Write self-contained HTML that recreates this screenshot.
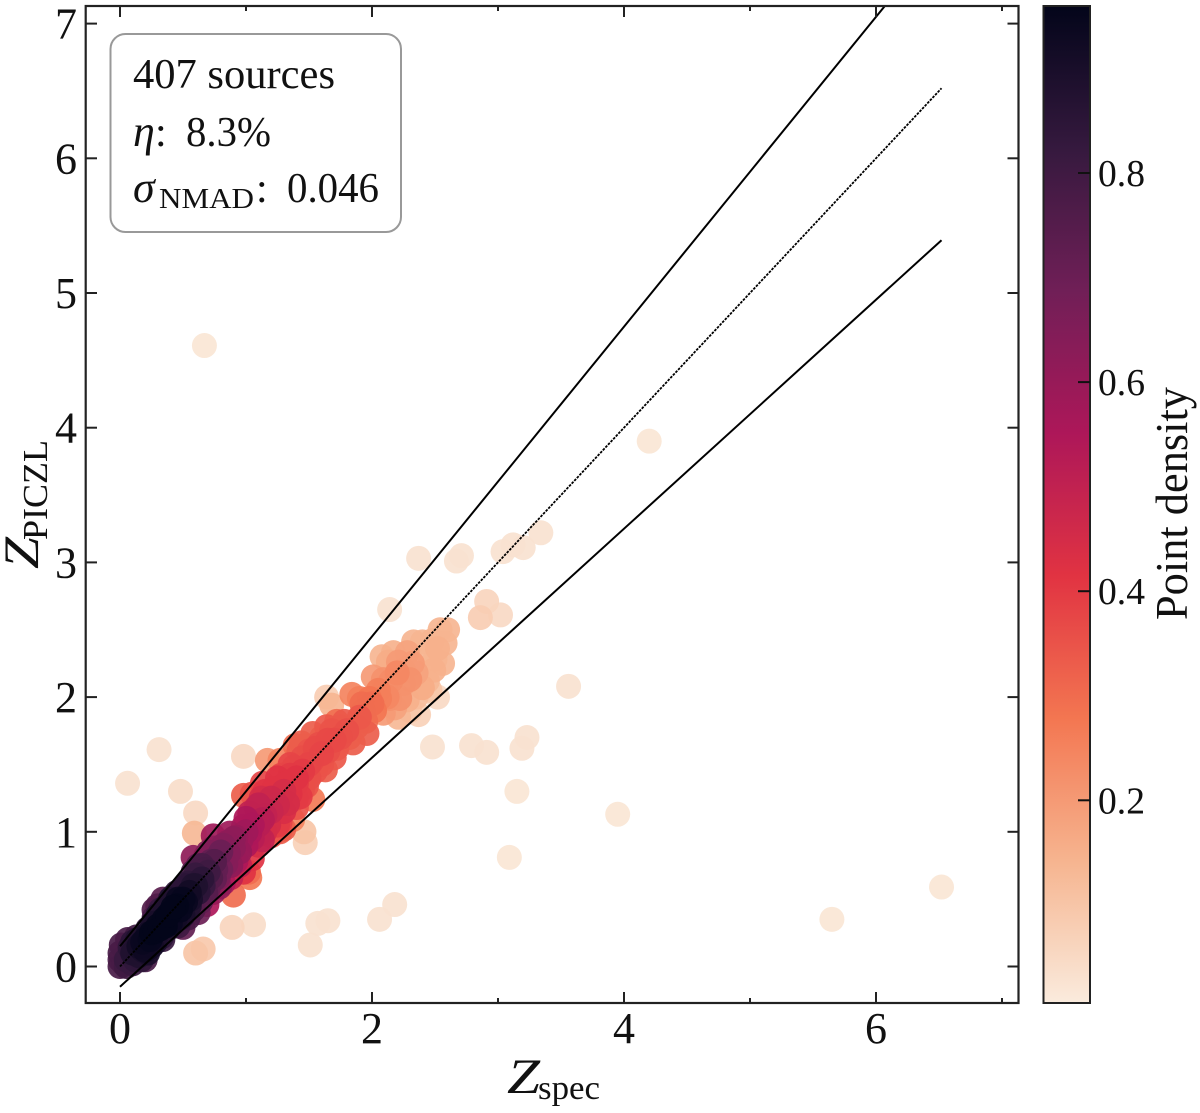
<!DOCTYPE html>
<html lang="en">
<head>
<meta charset="utf-8">
<title>PICZL photometric redshift scatter</title>
<style>
html,body{margin:0;padding:0;background:#fff;}
svg{display:block;}
text{font-family:"Liberation Serif","DejaVu Serif",serif;fill:#111;}
</style>
</head>
<body>
<svg id="chart" xmlns="http://www.w3.org/2000/svg" width="1200" height="1113" viewBox="0 0 1200 1113">
  <defs>
    <clipPath id="plot-clip"><rect x="86" y="7" width="932" height="995"></rect></clipPath>
    <linearGradient id="cbar-grad" x1="0" y1="1" x2="0" y2="0"></linearGradient>
  </defs>
  <rect x="0" y="0" width="1200" height="1113" fill="#fff"></rect>
  <g id="points" clip-path="url(#plot-clip)"></g>
  <g id="lines" clip-path="url(#plot-clip)"></g>
  <g id="ticks"></g>
  <rect x="85.7" y="6" width="932.8" height="997" fill="none" stroke="#222" stroke-width="2.2"></rect>

  <g>
    <rect x="110.5" y="34" width="290.5" height="198" rx="15" ry="15" fill="#fff" stroke="#999" stroke-width="2"></rect>
    <text x="133" y="88" font-size="42" textLength="202" lengthAdjust="spacingAndGlyphs">407 sources</text>
    <text x="133" y="146" font-size="44" font-style="italic">η</text>
    <text x="155" y="146" font-size="42">:</text>
    <text x="186" y="146" font-size="42" textLength="85" lengthAdjust="spacingAndGlyphs">8.3%</text>
    <text x="133" y="202" font-size="44" font-style="italic">σ</text>
    <text x="159" y="208" font-size="29" textLength="95" lengthAdjust="spacingAndGlyphs">NMAD</text>
    <text x="256" y="202" font-size="42">:</text>
    <text x="287" y="202" font-size="42" textLength="92" lengthAdjust="spacingAndGlyphs">0.046</text>
  </g>

  <g>
    <text x="507" y="1093" font-size="50" font-style="italic" textLength="33" lengthAdjust="spacingAndGlyphs">Z</text>
    <text x="538" y="1099" font-size="34" textLength="62" lengthAdjust="spacingAndGlyphs">spec</text>
  </g>
  <g>
    <text transform="translate(38,569) rotate(-90)" font-size="50" font-style="italic" textLength="32" lengthAdjust="spacingAndGlyphs">Z</text>
    <text transform="translate(47,540) rotate(-90)" font-size="35" textLength="100" lengthAdjust="spacingAndGlyphs">PICZL</text>
  </g>

  <rect x="1043.5" y="6" width="46.5" height="997" fill="url(#cbar-grad)" stroke="#222" stroke-width="2"></rect>
  <g id="cbar-ticks"></g>
  <text transform="translate(1187,620) rotate(-90)" font-size="46" textLength="233" lengthAdjust="spacingAndGlyphs">Point density</text>
</svg>
<script>
// Chart data
const zSpec = [
  0.67,4.20,6.52,5.65,3.95,3.09,3.15,3.56,3.23,3.19,
  2.91,2.79,2.48,2.18,2.06,1.65,1.57,1.51,1.06,0.89,
  0.66,0.60,0.06,0.31,0.48,0.98,0.60,0.59,2.37,2.67,
  2.71,3.04,3.12,3.20,3.34,2.14,2.91,2.86,3.02,2.60,
  2.54,2.52,2.58,2.56,2.49,2.33,2.40,2.08,2.17,2.28,
  2.13,2.21,2.32,2.01,2.09,2.20,2.30,2.40,2.52,2.37,
  2.21,2.28,2.14,2.06,1.98,1.93,2.09,2.22,1.64,1.68,
  1.84,1.90,2.11,1.96,1.85,1.75,1.64,1.53,1.44,1.63,
  1.50,1.60,1.70,1.80,1.90,2.00,1.55,1.65,1.75,1.53,
  1.46,1.47,1.37,0.98,1.17,1.27,1.13,1.27,1.40,1.21,
  1.33,1.43,1.03,1.13,1.27,1.03,0.98,1.13,1.10,1.20,
  1.30,1.40,1.25,1.35,1.45,1.50,1.42,1.39,1.47,1.20,
  1.30,1.27,1.40,1.35,1.48,1.58,1.70,1.05,1.60,1.72,
  0.00,0.00,0.00,0.01,0.03,0.05,0.06,0.10,0.10,0.10,
  0.13,0.15,0.15,0.18,0.20,0.20,0.22,0.25,0.25,0.27,
  0.27,0.30,0.30,0.33,0.34,0.35,0.38,0.40,0.40,0.42,
  0.45,0.45,0.48,0.50,0.50,0.52,0.55,0.55,0.58,0.58,
  0.60,0.60,0.62,0.65,0.65,0.68,0.69,0.70,0.70,0.74,
  0.75,0.75,0.79,0.80,0.80,0.85,0.87,0.88,0.90,1.03,
  0.90,0.95,0.95,1.00,1.00,1.05,1.10,1.10,1.02,1.15,
  0.05,0.08,0.12,0.14,0.17,0.18,0.20,0.22,0.22,0.24,
  0.26,0.28,0.28,0.30,0.32,0.32,0.34,0.36,0.36,0.38,
  0.40,0.42,0.42,0.44,0.46,0.46,0.48,0.50,0.50,0.52,
  0.54,0.54,0.56,0.58,0.58,0.60,0.62,0.62,0.64,0.66,
  0.68,0.68,0.70,0.72,0.72,0.74,0.74,0.76,0.78,0.78,
  0.82,0.82,0.84,0.86,0.88,0.90,0.92,0.92,0.96,0.98,
  1.00,1.05,1.05,1.08,1.10,1.12,1.15,1.15,1.18,1.20,
  1.22,1.25,1.25,1.28,1.30,1.32,1.35,1.38,1.40,1.42,
  1.45,1.45,1.50,1.52,1.55,1.58,1.60,1.65,1.68,1.72,
  1.78,1.82,1.88,1.92,1.95,2.02,2.05,2.12,2.15,2.18,
  2.25,2.25,2.35,2.35,2.44,2.45,2.48,2.50,2.46,2.30
];
const zPiczl = [
  4.61,3.90,0.59,0.35,1.13,0.81,1.30,2.08,1.70,1.62,
  1.59,1.64,1.63,0.46,0.35,0.34,0.32,0.16,0.31,0.29,
  0.13,0.10,1.36,1.61,1.30,1.56,1.14,0.99,3.03,3.01,
  3.05,3.08,3.13,3.11,3.22,2.65,2.71,2.59,2.61,2.50,
  2.50,2.36,2.40,2.25,2.20,2.41,2.41,2.30,2.33,2.33,
  2.26,2.26,2.25,2.15,2.13,2.18,2.13,2.07,2.00,1.87,
  1.85,1.98,1.99,1.99,1.99,1.90,1.88,1.99,2.00,1.94,
  2.02,1.99,2.08,1.73,1.66,1.78,1.78,1.73,1.66,1.46,
  1.50,1.58,1.68,1.75,1.85,1.95,1.62,1.68,1.70,1.24,
  1.00,0.92,1.09,1.27,1.53,1.53,1.36,1.33,1.36,1.18,
  1.21,1.26,1.14,1.09,1.07,0.99,1.04,0.94,1.20,1.25,
  1.30,1.40,1.40,1.50,1.45,1.60,1.60,1.64,1.64,0.97,
  1.02,1.00,1.18,1.42,1.34,1.52,1.55,1.28,1.70,1.82,
  0.00,0.05,0.10,0.16,0.02,0.00,0.20,0.02,0.10,0.18,
  0.22,0.08,0.15,0.12,0.05,0.20,0.28,0.15,0.25,0.36,
  0.42,0.45,0.30,0.22,0.50,0.35,0.28,0.40,0.50,0.30,
  0.45,0.55,0.36,0.50,0.29,0.60,0.45,0.55,0.70,0.81,
  0.60,0.50,0.40,0.65,0.75,0.55,0.46,0.70,0.85,0.97,
  0.65,0.78,0.59,0.85,0.72,0.92,0.99,0.75,0.53,0.66,
  0.95,0.85,0.75,1.00,0.90,0.80,1.05,0.90,0.70,1.00,
  0.05,0.14,0.05,0.20,0.05,0.18,0.12,0.10,0.24,0.20,
  0.32,0.18,0.26,0.38,0.28,0.42,0.20,0.30,0.44,0.38,
  0.32,0.44,0.52,0.36,0.50,0.30,0.42,0.58,0.38,0.48,
  0.36,0.62,0.50,0.60,0.42,0.68,0.55,0.75,0.48,0.60,
  0.72,0.82,0.58,0.66,0.78,0.88,0.55,0.72,0.82,0.66,
  0.90,0.62,0.76,0.84,0.66,0.88,0.78,0.96,0.94,0.70,
  1.10,1.05,0.95,1.18,0.98,1.25,1.12,1.30,1.05,1.15,
  1.32,1.20,1.05,1.42,1.15,1.36,1.28,1.48,1.25,1.45,
  1.55,1.32,1.40,1.52,1.45,1.65,1.50,1.60,1.75,1.62,
  1.82,1.70,1.78,1.95,1.82,1.90,2.05,2.00,2.12,1.92,
  2.10,2.20,2.18,2.00,2.12,2.32,2.42,2.28,2.05,1.90
];
const density = [
  .02,.02,.02,.02,.02,.02,.02,.03,.03,.03,
  .03,.03,.03,.03,.03,.03,.03,.03,.04,.06,
  .09,.10,.03,.03,.04,.05,.05,.13,.03,.03,
  .03,.03,.03,.03,.03,.03,.06,.08,.05,.14,
  .14,.15,.14,.14,.15,.14,.14,.14,.15,.18,
  .16,.20,.20,.20,.22,.24,.22,.16,.05,.07,
  .13,.15,.22,.26,.28,.30,.20,.22,.08,.14,
  .25,.26,.22,.33,.33,.33,.34,.33,.33,.33,
  .38,.38,.37,.36,.34,.30,.37,.37,.36,.27,
  .10,.07,.25,.33,.20,.25,.38,.40,.40,.45,
  .45,.40,.50,.52,.38,.55,.55,.50,.50,.47,
  .45,.42,.42,.38,.40,.35,.33,.30,.32,.35,
  .33,.33,.35,.40,.35,.35,.34,.35,.32,.30,
  .78,.78,.78,.78,.78,.80,.78,.82,.88,.85,
  .80,.88,.92,.90,.78,.94,.85,.92,.96,.78,
  .76,.76,.96,.85,.74,.96,.88,.96,.88,.80,
  .96,.85,.85,.95,.72,.85,.88,.92,.78,.62,
  .88,.75,.70,.85,.78,.75,.55,.80,.65,.58,
  .72,.75,.62,.70,.68,.62,.58,.62,.30,.27,
  .62,.60,.50,.58,.55,.42,.52,.45,.30,.45,
  .82,.84,.84,.88,.84,.94,.93,.90,.92,.95,
  .90,.90,.96,.88,.96,.82,.82,.96,.88,.96,
  .94,.96,.82,.92,.94,.80,.95,.84,.90,.94,
  .78,.84,.90,.88,.76,.82,.85,.72,.72,.82,
  .78,.62,.72,.76,.72,.62,.60,.72,.68,.66,
  .64,.55,.64,.64,.50,.62,.55,.60,.58,.42,
  .55,.55,.52,.48,.50,.45,.50,.42,.45,.48,
  .42,.47,.40,.38,.44,.42,.42,.38,.38,.38,
  .36,.36,.36,.37,.35,.36,.35,.36,.35,.34,
  .34,.33,.33,.30,.30,.28,.26,.24,.23,.18,
  .20,.20,.18,.12,.13,.14,.14,.14,.10,.10
];
const xMajorTicks = [0, 2, 4, 6];
const xMinorTicks = [1, 3, 5, 7];
const yMajorTicks = [0, 1, 2, 3, 4, 5, 6, 7];
const cbarTicks = [0.2, 0.4, 0.6, 0.8];
const cbarDomain = [0.0065, 0.96];
const identityEnds = [0, 6.52];
const outlierFraction = 0.15;
const rocketReversed = ['#faebdd', '#f6b48f', '#f37651', '#e13342', '#ad1759', '#701f57', '#35193e', '#03051a'];

const NS = 'http://www.w3.org/2000/svg';
const sx = v => 120 + 126 * v;
const sy = v => 966.5 - 134.7 * v;
const scb = v => 173 - 1045.5 * (v - 0.8);

function hexRgb(h) {
  return [1, 3, 5].map(i => parseInt(h.slice(i, i + 2), 16));
}
function colorFor(d) {
  const t = Math.min(1, Math.max(0, (d - cbarDomain[0]) / (cbarDomain[1] - cbarDomain[0])));
  const p = t * (rocketReversed.length - 1);
  const i = Math.min(rocketReversed.length - 2, Math.floor(p));
  const a = hexRgb(rocketReversed[i]);
  const b = hexRgb(rocketReversed[i + 1]);
  const f = p - i;
  return 'rgb(' + a.map((c, k) => Math.round(c + (b[k] - c) * f)).join(',') + ')';
}
function mk(tag, props, parent) {
  const el = document.createElementNS(NS, tag);
  Object.keys(props).forEach(k => el.setAttribute(k, props[k]));
  parent.appendChild(el);
  return el;
}

// Colorbar gradient
const grad = document.getElementById('cbar-grad');
rocketReversed.forEach((c, i) => {
  mk('stop', {offset: i / (rocketReversed.length - 1), 'stop-color': c}, grad);
});

// Points: densest drawn last
const pointsG = document.getElementById('points');
const order = density.map((d, i) => i).sort((a, b) => density[a] - density[b]);
order.forEach(i => {
  const c = mk('circle', {cx: sx(zSpec[i]), cy: sy(zPiczl[i]), r: 12.5, fill: colorFor(density[i]), 'fill-opacity': 0.92}, pointsG);
  
  
});

// Reference lines
const linesG = document.getElementById('lines');
const a0 = identityEnds[0], a1 = identityEnds[1];
const upper = v => v + outlierFraction * (1 + v);
const lower = v => v - outlierFraction * (1 + v);
const identityLine = mk('line', {x1: sx(a0), y1: sy(a0), x2: sx(a1), y2: sy(a1), stroke: '#000', 'stroke-width': 1.8, 'stroke-dasharray': '2.6 1.2'}, linesG);


const upperLine = mk('line', {x1: sx(a0), y1: sy(upper(a0)), x2: sx(a1), y2: sy(upper(a1)), stroke: '#000', 'stroke-width': 2}, linesG);


const lowerLine = mk('line', {x1: sx(a0), y1: sy(lower(a0)), x2: sx(a1), y2: sy(lower(a1)), stroke: '#000', 'stroke-width': 2}, linesG);



// Axis ticks and labels
const ticksG = document.getElementById('ticks');
const tickProps = {stroke: '#222', 'stroke-width': 2};
function tickLine(x1, y1, x2, y2) {
  return mk('line', Object.assign({x1: x1, y1: y1, x2: x2, y2: y2}, tickProps), ticksG);
}
xMajorTicks.forEach(v => {
  const b = tickLine(sx(v), 1003, sx(v), 992);
  
  
  const t = tickLine(sx(v), 6, sx(v), 17);
  
  
  const label = mk('text', {x: sx(v), y: 1043, 'font-size': 44, 'text-anchor': 'middle'}, ticksG);
  
  
  label.textContent = String(v);
});
xMinorTicks.forEach(v => {
  const b = tickLine(sx(v), 1003, sx(v), 998);
  
  
  const t = tickLine(sx(v), 6, sx(v), 11);
  
  
});
yMajorTicks.forEach(v => {
  const l = tickLine(86, sy(v), 97, sy(v));
  
  
  const r = tickLine(1007.5, sy(v), 1018.5, sy(v));
  
  
  const label = mk('text', {x: 77, y: sy(v) + 15, 'font-size': 44, 'text-anchor': 'end'}, ticksG);
  
  
  label.textContent = String(v);
});

// Colorbar ticks and labels
const cbarG = document.getElementById('cbar-ticks');
cbarTicks.forEach(v => {
  const tick = mk('line', {x1: 1078, y1: scb(v), x2: 1090, y2: scb(v), stroke: '#111', 'stroke-width': 2}, cbarG);
  
  
  const label = mk('text', {x: 1098, y: scb(v) + 13, 'font-size': 38, textLength: 47, lengthAdjust: 'spacingAndGlyphs'}, cbarG);
  
  
  label.textContent = v.toFixed(1);
});
</script>
</body>
</html>
